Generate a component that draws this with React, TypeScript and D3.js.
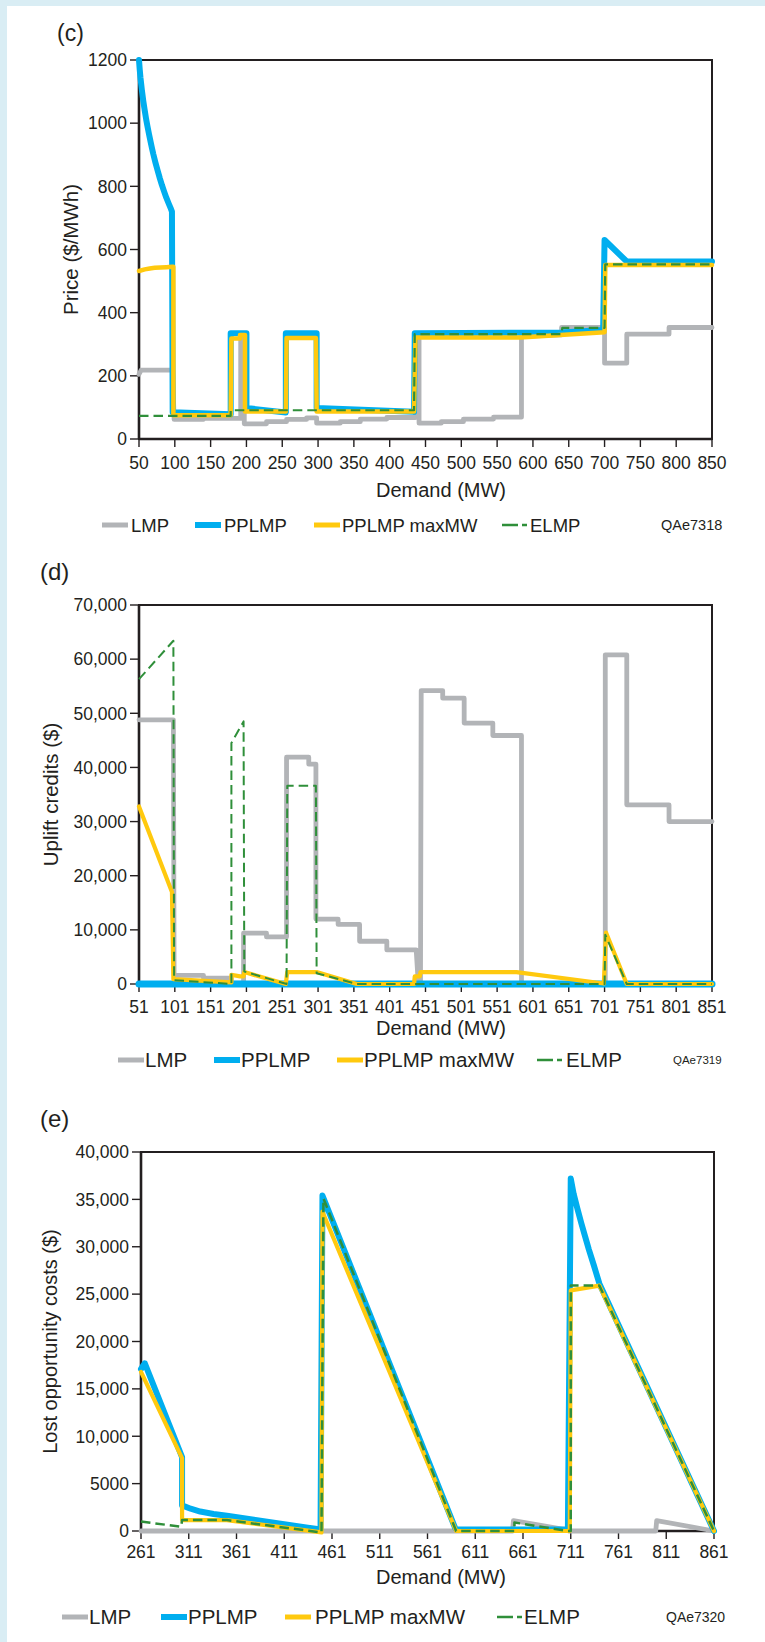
import React from "react";
import * as d3 from "d3";

type Pt = [number, number];

// ---- (c) Price vs demand ----
const priceTicksX = [50, 100, 150, 200, 250, 300, 350, 400, 450, 500, 550, 600, 650, 700, 750, 800, 850];
const priceTicksY = [0, 200, 400, 600, 800, 1000, 1200];
const priceTickLabelsY = ["0", "200", "400", "600", "800", "1000", "1200"];

const priceLMP: Pt[] = [
  [50, 205], [53, 218], [97, 218], [99, 62], [140, 62], [141, 65], [192, 65], [192, 328], [197, 328],
  [197, 48], [228, 48], [228, 55], [256, 55], [256, 62], [284, 62], [284, 67], [298, 67], [298, 50],
  [331, 50], [331, 55], [359, 55], [359, 63], [396, 63], [396, 68], [436, 68], [436, 330], [441, 330],
  [441, 50], [472, 50], [472, 55], [503, 55], [503, 63], [545, 63], [545, 69], [584, 69], [584, 325],
  [640, 330], [640, 353], [700, 353], [700, 240], [731, 240], [731, 332], [790, 332], [790, 353], [850, 353],
];
const pricePPLMP: Pt[] = [
  [50, 1200], [51, 1170], [52, 1145], [54, 1105], [56, 1070], [58, 1040], [60, 1012], [62, 988], [64, 965],
  [66, 943], [68, 922], [70, 902], [73, 875], [76, 850], [79, 826], [82, 804], [85, 784], [88, 765],
  [91, 748], [94, 732], [96, 720], [97, 85], [178, 78],
  [178, 335], [200, 335], [200, 98], [255, 84], [255, 335], [298, 335], [298, 98], [434, 86], [435, 335],
  [640, 337], [698, 345], [700, 630], [731, 562], [850, 562],
];
const pricePPLMPmax: Pt[] = [
  [50, 532], [58, 537], [65, 540], [72, 542], [80, 543], [88, 544], [96, 545], [98, 545], [98, 75],
  [178, 75], [179, 318], [191, 318], [191, 329], [198, 329], [198, 87], [255, 87], [256, 320], [297, 320],
  [298, 87], [434, 87], [436, 321], [582, 321], [700, 338], [701, 551], [850, 551],
];
const priceELMP: Pt[] = [
  [50, 73], [178, 73], [178, 91], [434, 91], [435, 332], [640, 332], [641, 352], [700, 352], [701, 553], [850, 553],
];

// ---- (d) Uplift credits vs demand ----
const upliftTicksX = [51, 101, 151, 201, 251, 301, 351, 401, 451, 501, 551, 601, 651, 701, 751, 801, 851];
const upliftTicksY = [0, 10000, 20000, 30000, 40000, 50000, 60000, 70000];
const upliftTickLabelsY = ["0", "10,000", "20,000", "30,000", "40,000", "50,000", "60,000", "70,000"];

const upliftLMP: Pt[] = [
  [51, 48800], [99, 48800], [100, 1600], [141, 1600], [141, 1100], [180, 1100], [180, 150], [197, 150],
  [197, 9400], [229, 9400], [229, 8700], [257, 8700], [257, 41900], [288, 41900], [288, 40600], [298, 40600],
  [298, 12000], [329, 12000], [329, 11000], [359, 11000], [359, 7900], [397, 7900], [397, 6300], [438, 6300],
  [441, 0], [444, 0], [445, 54200], [475, 54200], [475, 52800], [505, 52800], [505, 48200], [545, 48200],
  [545, 45900], [585, 45900], [585, 0], [702, 0], [702, 60800], [732, 60800], [732, 33100], [791, 33100],
  [791, 30000], [851, 30000],
];
const upliftPPLMP: Pt[] = [[51, 0], [851, 0]];
const upliftPPLMPmax: Pt[] = [
  [51, 32800], [97, 17000], [99, 900], [180, 300], [180, 1700], [192, 1400], [197, 1400], [198, 2200],
  [256, 0], [258, 2200], [299, 2200], [355, 0], [435, 0], [436, 1400], [443, 1400], [444, 2200], [578, 2200],
  [700, 100], [703, 9500], [732, 0], [851, 0],
];
const upliftELMP: Pt[] = [
  [51, 56300], [99, 63400], [100, 700], [180, 0], [180, 44500], [197, 48500], [198, 2300], [257, 0],
  [258, 36600], [298, 36600], [299, 2000], [355, 0], [701, 0], [702, 9100], [732, 0], [851, 0],
];

// ---- (e) Lost opportunity costs vs demand ----
const lostTicksX = [261, 311, 361, 411, 461, 511, 561, 611, 661, 711, 761, 811, 861];
const lostTicksY = [0, 5000, 10000, 15000, 20000, 25000, 30000, 35000, 40000];
const lostTickLabelsY = ["0", "5000", "10,000", "15,000", "20,000", "25,000", "30,000", "35,000", "40,000"];

const lostLMP: Pt[] = [
  [261, 0], [650, 0], [651, 1100], [708, 100], [709, 0], [800, 0], [801, 1100], [861, 0],
];
const lostPPLMP: Pt[] = [
  [261, 17100], [265, 17700], [304, 7800], [304, 2700], [313, 2350], [323, 2050], [337, 1800], [351, 1600],
  [449, 150], [451, 35400], [590, 300], [592, 150], [708, 150], [711, 37200], [714, 35600], [718, 34000],
  [722, 32500], [726, 31100], [730, 29700], [735, 28100], [741, 26100], [861, 0],
];
const lostPPLMPmax: Pt[] = [
  [261, 16800], [304, 7700], [304, 1150], [351, 1150], [450, -150], [451, 33700], [591, 0], [710, 0],
  [711, 25400], [741, 25900], [861, 0],
];
const lostELMP: Pt[] = [
  [261, 1000], [303, 450], [304, 1150], [351, 1150], [450, -150], [452, 35100], [591, 0], [652, 0],
  [652, 900], [708, 0], [711, 0], [711, 25900], [741, 25900], [861, 0],
];

const seriesNames = ["LMP", "PPLMP", "PPLMP maxMW", "ELMP"];
const colors = { LMP: "#b2b4b7", PPLMP: "#00aeef", "PPLMP maxMW": "#ffc90e", ELMP: "#2f8f3a" } as Record<string, string>;
const INK = "#231f20";
const FONT = "'Liberation Sans', Arial, Helvetica, sans-serif";

type PanelCfg = {
  tag: string; tagX: number; tagY: number; tagSize: number;
  box: { left: number; right: number; top: number; bottom: number };
  xDomain: [number, number]; yDomain: [number, number];
  ticksX: number[]; ticksY: number[]; tickLabelsY: string[];
  xLabelY: number; xTitleY: number;
  yTitle: string; yTitleX: number; yTitleSize: number;
  series: Pt[][]; widths: number[];
  legendY: number; legendSize: number; swatchX: number[]; textX: number[];
  code: string; codeX: number; codeSize: number;
};

const panels: PanelCfg[] = [
  {
    tag: "(c)", tagX: 57, tagY: 41, tagSize: 23,
    box: { left: 139, right: 712, top: 60, bottom: 439 },
    xDomain: [50, 850], yDomain: [0, 1200],
    ticksX: priceTicksX, ticksY: priceTicksY, tickLabelsY: priceTickLabelsY,
    xLabelY: 469, xTitleY: 497,
    yTitle: "Price ($/MWh)", yTitleX: 78, yTitleSize: 20.5,
    series: [priceLMP, pricePPLMP, pricePPLMPmax, priceELMP], widths: [4.8, 6, 4.5, 2.2],
    legendY: 525, legendSize: 18.5, swatchX: [102, 195, 314, 502], textX: [131, 224, 342, 530],
    code: "QAe7318", codeX: 661, codeSize: 14.5,
  },
  {
    tag: "(d)", tagX: 40, tagY: 580, tagSize: 24,
    box: { left: 139, right: 712, top: 605, bottom: 984 },
    xDomain: [51, 851], yDomain: [0, 70000],
    ticksX: upliftTicksX, ticksY: upliftTicksY, tickLabelsY: upliftTickLabelsY,
    xLabelY: 1013, xTitleY: 1035,
    yTitle: "Uplift credits ($)", yTitleX: 58, yTitleSize: 20.5,
    series: [upliftLMP, upliftPPLMP, upliftPPLMPmax, upliftELMP], widths: [4.8, 7, 4.2, 2],
    legendY: 1060, legendSize: 20.5, swatchX: [118, 214, 337, 537], textX: [145, 241, 364, 566],
    code: "QAe7319", codeX: 673, codeSize: 11.5,
  },
  {
    tag: "(e)", tagX: 40, tagY: 1127, tagSize: 24,
    box: { left: 141, right: 714, top: 1152, bottom: 1531 },
    xDomain: [261, 861], yDomain: [0, 40000],
    ticksX: lostTicksX, ticksY: lostTicksY, tickLabelsY: lostTickLabelsY,
    xLabelY: 1558, xTitleY: 1584,
    yTitle: "Lost opportunity costs ($)", yTitleX: 57, yTitleSize: 20,
    series: [lostLMP, lostPPLMP, lostPPLMPmax, lostELMP], widths: [4.8, 6, 4.2, 2.5],
    legendY: 1617, legendSize: 20.5, swatchX: [62, 161, 285, 497], textX: [89, 188, 315, 524],
    code: "QAe7320", codeX: 666, codeSize: 14,
  },
];

function Panel({ cfg }: { cfg: PanelCfg }) {
  const { box } = cfg;
  const x = d3.scaleLinear().domain(cfg.xDomain).range([box.left, box.right]);
  const y = d3.scaleLinear().domain(cfg.yDomain).range([box.bottom, box.top]);
  const line = d3.line<Pt>().x((d) => x(d[0])).y((d) => y(d[1]));
  const midY = (box.top + box.bottom) / 2;

  return (
    <g fontFamily={FONT} fill={INK}>
      <text x={cfg.tagX} y={cfg.tagY} fontSize={cfg.tagSize}>{cfg.tag}</text>

      {/* frame */}
      <rect x={box.left} y={box.top} width={box.right - box.left} height={box.bottom - box.top}
        fill="none" stroke={INK} strokeWidth={2} />
      <line x1={box.left} x2={box.left} y1={box.top} y2={box.bottom} stroke={INK} strokeWidth={2.6} />
      <line x1={box.left} x2={box.right} y1={box.bottom} y2={box.bottom} stroke={INK} strokeWidth={2.4} />

      {/* ticks */}
      {cfg.ticksX.map((t) => (
        <g key={"x" + t}>
          <line x1={x(t)} x2={x(t)} y1={box.bottom} y2={box.bottom + 8} stroke={INK} strokeWidth={1.4} />
          <text x={x(t)} y={cfg.xLabelY} fontSize={17.5} textAnchor="middle">{t}</text>
        </g>
      ))}
      {cfg.ticksY.map((t, i) => (
        <g key={"y" + t}>
          <line x1={box.left - 9} x2={box.left} y1={y(t)} y2={y(t)} stroke={INK} strokeWidth={1.4} />
          <text x={box.left - 12} y={y(t)} dy="0.36em" fontSize={17.5} textAnchor="end">{cfg.tickLabelsY[i]}</text>
        </g>
      ))}

      <text x={441} y={cfg.xTitleY} fontSize={20} textAnchor="middle">Demand (MW)</text>
      <text transform={`translate(${cfg.yTitleX},${midY}) rotate(-90)`} fontSize={cfg.yTitleSize} textAnchor="middle">
        {cfg.yTitle}
      </text>

      {/* series */}
      {cfg.series.map((s, i) => {
        const name = seriesNames[i];
        return (
          <path key={name} d={line(s) || ""} fill="none" stroke={colors[name]} strokeWidth={cfg.widths[i]}
            strokeLinejoin="round" strokeLinecap={name === "ELMP" ? "butt" : "round"}
            strokeDasharray={name === "ELMP" ? "9.5,5" : undefined} />
        );
      })}

      {/* legend */}
      {seriesNames.map((name, i) => (
        <g key={"lg" + name}>
          <line x1={cfg.swatchX[i]} x2={cfg.swatchX[i] + 26} y1={cfg.legendY} y2={cfg.legendY}
            stroke={colors[name]} strokeWidth={name === "ELMP" ? 2.5 : name === "PPLMP" ? 6 : 5}
            strokeDasharray={name === "ELMP" ? "16,4,5,40" : undefined} />
          <text x={cfg.textX[i]} y={cfg.legendY} dy="0.36em" fontSize={cfg.legendSize}>{name}</text>
        </g>
      ))}
      <text x={cfg.codeX} y={cfg.legendY} dy="0.36em" fontSize={cfg.codeSize}>{cfg.code}</text>
    </g>
  );
}

export default function App() {
  return (
    <svg width={765} height={1642} style={{ position: "absolute", left: 0, top: 0 }}>
      <rect x={0} y={0} width={765} height={1642} fill="#d9edf4" />
      <rect x={7} y={6} width={758} height={1636} fill="#ffffff" />
      {panels.map((p) => <Panel key={p.tag} cfg={p} />)}
    </svg>
  );
}
